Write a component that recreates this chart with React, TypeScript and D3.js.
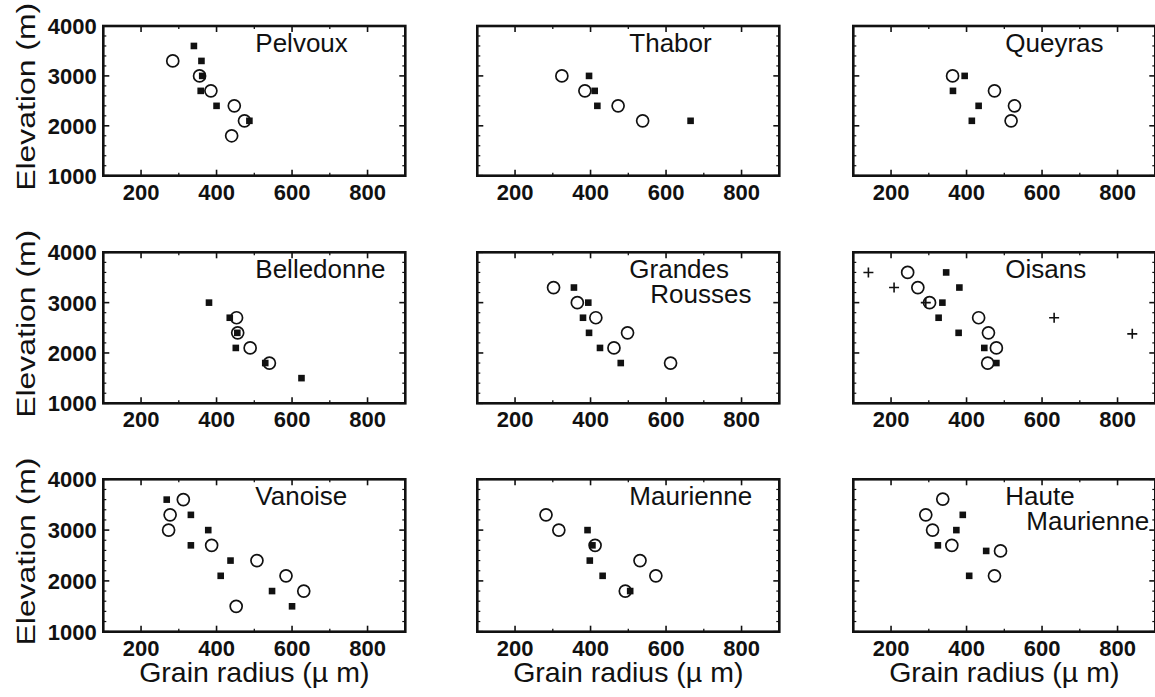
import React from 'react';
import * as d3 from 'd3';

// axes shared by all nine panels
const xDomain = [100, 900];
const yDomain = [1000, 4000];
const xTicks = [200, 400, 600, 800];
const xMinor = [300, 500, 700];
const yTicks = [1000, 2000, 3000, 4000];
const yMinor = [1200, 1400, 1600, 1800, 2200, 2400, 2600, 2800, 3200, 3400, 3600, 3800];

// points are [grain radius (µm), elevation (m)]
const pelvouxSquares = [[340, 3600], [360, 3300], [362, 3000], [358, 2700], [400, 2400], [487, 2100]];
const pelvouxCircles = [[284, 3300], [355, 3000], [385, 2700], [447, 2400], [474, 2100], [440, 1800]];

const thaborSquares = [[396, 3000], [411, 2700], [418, 2400], [665, 2100]];
const thaborCircles = [[324, 3000], [385, 2700], [473, 2400], [538, 2100]];

const queyrasSquares = [[395, 3000], [364, 2700], [432, 2400], [414, 2100]];
const queyrasCircles = [[363, 3000], [474, 2700], [527, 2400], [518, 2100]];

const belledonneSquares = [[380, 3000], [435, 2700], [455, 2400], [451, 2100], [529, 1800], [625, 1500]];
const belledonneCircles = [[453, 2700], [456, 2400], [489, 2100], [540, 1800]];

const grandesSquares = [[356, 3300], [394, 3000], [380, 2700], [396, 2400], [425, 2100], [480, 1800]];
const grandesCircles = [[302, 3300], [365, 3000], [414, 2700], [498, 2400], [462, 2100], [612, 1800]];

const oisansSquares = [[346, 3600], [381, 3300], [336, 3000], [326, 2700], [379, 2400], [447, 2100], [479, 1800]];
const oisansCircles = [[244, 3600], [271, 3300], [302, 3000], [432, 2700], [458, 2400], [479, 2100], [456, 1800]];
const oisansCrosses = [[140, 3600], [208, 3300], [292, 3000], [632, 2700], [839, 2380]];

const vanoiseSquares = [[268, 3600], [332, 3300], [378, 3000], [332, 2700], [437, 2400], [411, 2100], [547, 1800], [600, 1500]];
const vanoiseCircles = [[312, 3600], [277, 3300], [273, 3000], [387, 2700], [507, 2400], [584, 2100], [631, 1800], [452, 1500]];

const maurienneSquares = [[392, 3000], [405, 2700], [398, 2400], [432, 2100], [505, 1800]];
const maurienneCircles = [[282, 3300], [316, 3000], [412, 2700], [531, 2400], [573, 2100], [492, 1800]];

const hauteSquares = [[390, 3300], [373, 3000], [324, 2700], [452, 2590], [407, 2100]];
const hauteCircles = [[337, 3610], [292, 3300], [310, 3000], [361, 2700], [490, 2590], [474, 2100]];

const panels = [
  { title: ['Pelvoux'], squares: pelvouxSquares, circles: pelvouxCircles, crosses: [] },
  { title: ['Thabor'], squares: thaborSquares, circles: thaborCircles, crosses: [] },
  { title: ['Queyras'], squares: queyrasSquares, circles: queyrasCircles, crosses: [] },
  { title: ['Belledonne'], squares: belledonneSquares, circles: belledonneCircles, crosses: [] },
  { title: ['Grandes', 'Rousses'], squares: grandesSquares, circles: grandesCircles, crosses: [] },
  { title: ['Oisans'], squares: oisansSquares, circles: oisansCircles, crosses: oisansCrosses },
  { title: ['Vanoise'], squares: vanoiseSquares, circles: vanoiseCircles, crosses: [] },
  { title: ['Maurienne'], squares: maurienneSquares, circles: maurienneCircles, crosses: [] },
  { title: ['Haute', 'Maurienne'], squares: hauteSquares, circles: hauteCircles, crosses: [] },
];

const colLeft = [103.3, 477.3, 853.3];
const rowTop = [26, 252.3, 479.3];
const rowH = [149.7, 151, 152.4];
const panelW = 302;
const font = '"Liberation Sans", Arial, Helvetica, sans-serif';

function Panel({ p, col, row }) {
  const left = colLeft[col];
  const top = rowTop[row];
  const h = rowH[row];
  const x = d3.scaleLinear().domain(xDomain).range([0, panelW]);
  const y = d3.scaleLinear().domain(yDomain).range([h, 0]);

  return (
    <g transform={`translate(${left},${top})`}>
      {/* ticks, inward on all four sides */}
      {xTicks.map(t => (
        <g key={'xt' + t}>
          <line x1={x(t)} x2={x(t)} y1={h} y2={h - 6} stroke="#111" strokeWidth={1.6} />
          <line x1={x(t)} x2={x(t)} y1={0} y2={6} stroke="#111" strokeWidth={1.6} />
        </g>
      ))}
      {xMinor.map(t => (
        <g key={'xm' + t}>
          <line x1={x(t)} x2={x(t)} y1={h} y2={h - 3} stroke="#111" strokeWidth={1.3} />
          <line x1={x(t)} x2={x(t)} y1={0} y2={3} stroke="#111" strokeWidth={1.3} />
        </g>
      ))}
      {yTicks.map(t => (
        <g key={'yt' + t}>
          <line x1={0} x2={6} y1={y(t)} y2={y(t)} stroke="#111" strokeWidth={1.6} />
          <line x1={panelW} x2={panelW - 6} y1={y(t)} y2={y(t)} stroke="#111" strokeWidth={1.6} />
        </g>
      ))}
      {yMinor.map(t => (
        <g key={'ym' + t}>
          <line x1={0} x2={3} y1={y(t)} y2={y(t)} stroke="#111" strokeWidth={1.2} />
          <line x1={panelW} x2={panelW - 3} y1={y(t)} y2={y(t)} stroke="#111" strokeWidth={1.2} />
        </g>
      ))}
      <rect x={0} y={0} width={panelW} height={h} fill="none" stroke="#111" strokeWidth={2.6} />

      {/* tick labels */}
      {xTicks.map(t => (
        <text key={'xl' + t} x={x(t)} y={h + 24} textAnchor="middle" fontSize={22} fontWeight="bold" fontFamily={font} fill="#111">{t}</text>
      ))}
      {col === 0 && yTicks.map(t => (
        <text key={'yl' + t} x={-6.5} y={y(t)} dy="0.36em" textAnchor="end" fontSize={22} fontWeight="bold" fontFamily={font} fill="#111">{t}</text>
      ))}

      {/* title */}
      {p.title.map((line, i) => (
        <text key={line} x={152 + i * 21} y={25.5 + i * 25.5} fontSize={26} fontFamily={font} fill="#111">{line}</text>
      ))}

      {/* markers */}
      {p.squares.map((d, i) => (
        <rect key={'s' + i} x={x(d[0]) - 3.3} y={y(d[1]) - 3.3} width={6.6} height={6.6} fill="#111" />
      ))}
      {p.circles.map((d, i) => (
        <circle key={'c' + i} cx={x(d[0])} cy={y(d[1])} r={6} fill="none" stroke="#111" strokeWidth={1.7} />
      ))}
      {p.crosses.map((d, i) => (
        <path key={'p' + i} d={`M${x(d[0]) - 5},${y(d[1])}h10M${x(d[0])},${y(d[1]) - 5}v10`} stroke="#111" strokeWidth={1.6} />
      ))}

      {/* axis titles */}
      {col === 0 && (
        <text transform={`translate(${35 - left},${h / 2 - 4}) rotate(-90)`} textAnchor="middle" fontSize={26} textLength={188} lengthAdjust="spacingAndGlyphs" fontFamily={font} fill="#111">Elevation (m)</text>
      )}
      {row === 2 && (
        <text x={panelW / 2} y={h + 50} textAnchor="middle" fontSize={28.5} fontFamily={font} fill="#111">Grain radius (µ m)</text>
      )}
    </g>
  );
}

export default function App() {
  return (
    <svg width={1155} height={697} style={{ position: 'absolute', left: 0, top: 0, background: '#fff' }}>
      <rect width={1155} height={697} fill="#fff" />
      {panels.map((p, i) => (
        <Panel key={i} p={p} col={i % 3} row={Math.floor(i / 3)} />
      ))}
    </svg>
  );
}
